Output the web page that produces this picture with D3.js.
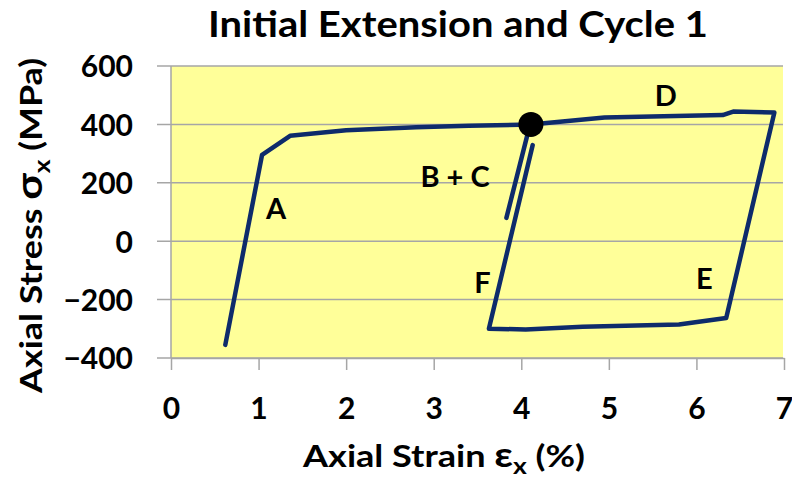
<!DOCTYPE html>
<html>
<head>
<meta charset="utf-8">
<script src="https://cdn.jsdelivr.net/npm/d3@7"></script>
<style>
  html, body { margin: 0; padding: 0; background: #ffffff; }
  svg { display: block; }
  text { font-family: Lato, "Open Sans", sans-serif; font-weight: bold; fill: #000; }
</style>
</head>
<body>
<svg id="chart" width="792" height="482"></svg>
<script>
// ---- Data ----
const xTicks = [0, 1, 2, 3, 4, 5, 6, 7];
const yTicks = [-400, -200, 0, 200, 400, 600];

// Main path: initial extension (A) to the dot, D, E, compression and reloading F
const mainStrain = [0.62, 1.04, 1.36, 2.0, 2.8, 3.4, 4.11, 4.95, 6.30, 6.42, 6.89, 6.34, 5.8, 4.7, 4.05, 3.63, 4.13];
const mainStress = [-355, 296, 361, 380, 390, 395, 400, 424, 432, 444, 441, -263, -285, -293, -302, -300, 329];

// B + C unload/reload segment
const bcStrain = [3.83, 4.10];
const bcStress = [80, 400];

// Marker point
const dotStrain = [4.11];
const dotStress = [400];

// Annotation labels
const labelText = ["A", "B + C", "D", "E", "F"];
const labelStrain = [1.20, 3.243, 5.65, 6.09, 3.557];
const labelStress = [112, 221, 500, -129, -141];

// ---- Layout ----
const svg = d3.select("#chart");
const plotLeft = 171, plotRight = 784, plotTop = 66, plotBottom = 358;
const x = d3.scaleLinear().domain([0, 7]).range([plotLeft, plotRight]);
const y = d3.scaleLinear().domain([-400, 600]).range([plotBottom, plotTop]);

const gridColor = "#a6a6a6";
const lineColor = "#0e2b6b";

// plot background
svg.append("rect")
  .attr("x", plotLeft).attr("y", plotTop)
  .attr("width", plotRight - plotLeft - 1).attr("height", plotBottom - plotTop)
  .attr("fill", "#ffff99");

// horizontal gridlines (with tick stubs to the left)
svg.append("g").selectAll("line").data(yTicks).join("line")
  .attr("x1", plotLeft - 14).attr("x2", plotRight - 1)
  .attr("y1", d => y(d)).attr("y2", d => y(d))
  .attr("stroke", gridColor).attr("stroke-width", 1.5);

// y axis line
svg.append("line")
  .attr("x1", plotLeft).attr("x2", plotLeft).attr("y1", plotTop).attr("y2", plotBottom)
  .attr("stroke", gridColor).attr("stroke-width", 1.5);

// x axis via d3.axisBottom
const xAxis = d3.axisBottom(x).tickValues(xTicks).tickSize(12).tickSizeOuter(0).tickFormat(d3.format("d"));
const gx = svg.append("g").attr("transform", `translate(0,${plotBottom})`).call(xAxis);
gx.select(".domain").attr("stroke", gridColor).attr("stroke-width", 1.5);
gx.selectAll(".tick line").attr("stroke", gridColor).attr("stroke-width", 1.5);
gx.selectAll(".tick text")
  .attr("y", 0).attr("dy", null)
  .attr("transform", "translate(0,61)")
  .style("font-family", "Lato, 'Open Sans', sans-serif")
  .style("font-weight", "bold")
  .style("font-size", "30px")
  .attr("fill", "#000");

// y axis labels via d3.axisLeft (text only)
const yAxis = d3.axisLeft(y).tickValues(yTicks).tickSize(0).tickPadding(0);
const gy = svg.append("g").attr("transform", `translate(133,0)`).call(yAxis);
gy.select(".domain").remove();
gy.selectAll(".tick line").remove();
gy.selectAll(".tick text")
  .attr("x", 0).attr("dy", "0.36em")
  .style("font-family", "Lato, 'Open Sans', sans-serif")
  .style("font-weight", "bold")
  .style("font-size", "30px")
  .attr("fill", "#000");

// ---- Series ----
const line = d3.line().x(d => x(d[0])).y(d => y(d[1])).curve(d3.curveLinear);

svg.append("path")
  .datum(d3.zip(mainStrain, mainStress))
  .attr("d", line)
  .attr("fill", "none").attr("stroke", lineColor)
  .attr("stroke-width", 4.5).attr("stroke-linejoin", "round").attr("stroke-linecap", "round");

svg.append("path")
  .datum(d3.zip(bcStrain, bcStress))
  .attr("d", line)
  .attr("fill", "none").attr("stroke", lineColor)
  .attr("stroke-width", 4.5).attr("stroke-linecap", "round");

svg.append("g").selectAll("circle").data(d3.zip(dotStrain, dotStress)).join("circle")
  .attr("cx", d => x(d[0])).attr("cy", d => y(d[1])).attr("r", 12.5)
  .attr("fill", "#000");

// ---- Annotations ----
svg.append("g").selectAll("text").data(d3.zip(labelText, labelStrain, labelStress)).join("text")
  .attr("x", d => x(d[1])).attr("y", d => y(d[2]))
  .attr("text-anchor", "middle").attr("dy", "0.36em")
  .style("font-size", "29px")
  .text(d => d[0]);

// ---- Titles ----
svg.append("text")
  .attr("x", 458).attr("y", 37)
  .attr("text-anchor", "middle")
  .attr("textLength", 500).attr("lengthAdjust", "spacingAndGlyphs")
  .style("font-size", "37px")
  .text("Initial Extension and Cycle 1");

const xt = svg.append("text")
  .attr("x", 303).attr("y", 467)
  .attr("textLength", 282).attr("lengthAdjust", "spacingAndGlyphs")
  .style("font-size", "30px");
xt.append("tspan").text("Axial Strain ");
xt.append("tspan").text("ε").style("font-size", "34px");
xt.append("tspan").text("x").attr("dy", 7).style("font-size", "22px");
xt.append("tspan").text(" (%)").attr("dy", -7);

const yt = svg.append("text")
  .attr("transform", "translate(42,393) rotate(-90)")
  .attr("x", 0).attr("y", 0)
  .attr("textLength", 335).attr("lengthAdjust", "spacingAndGlyphs")
  .style("font-size", "30px");
yt.append("tspan").text("Axial Stress ");
yt.append("tspan").text("σ").style("font-size", "36px");
yt.append("tspan").text("x").attr("dy", 8).style("font-size", "22px");
yt.append("tspan").text(" (MPa)").attr("dy", -8);
</script>
</body>
</html>
